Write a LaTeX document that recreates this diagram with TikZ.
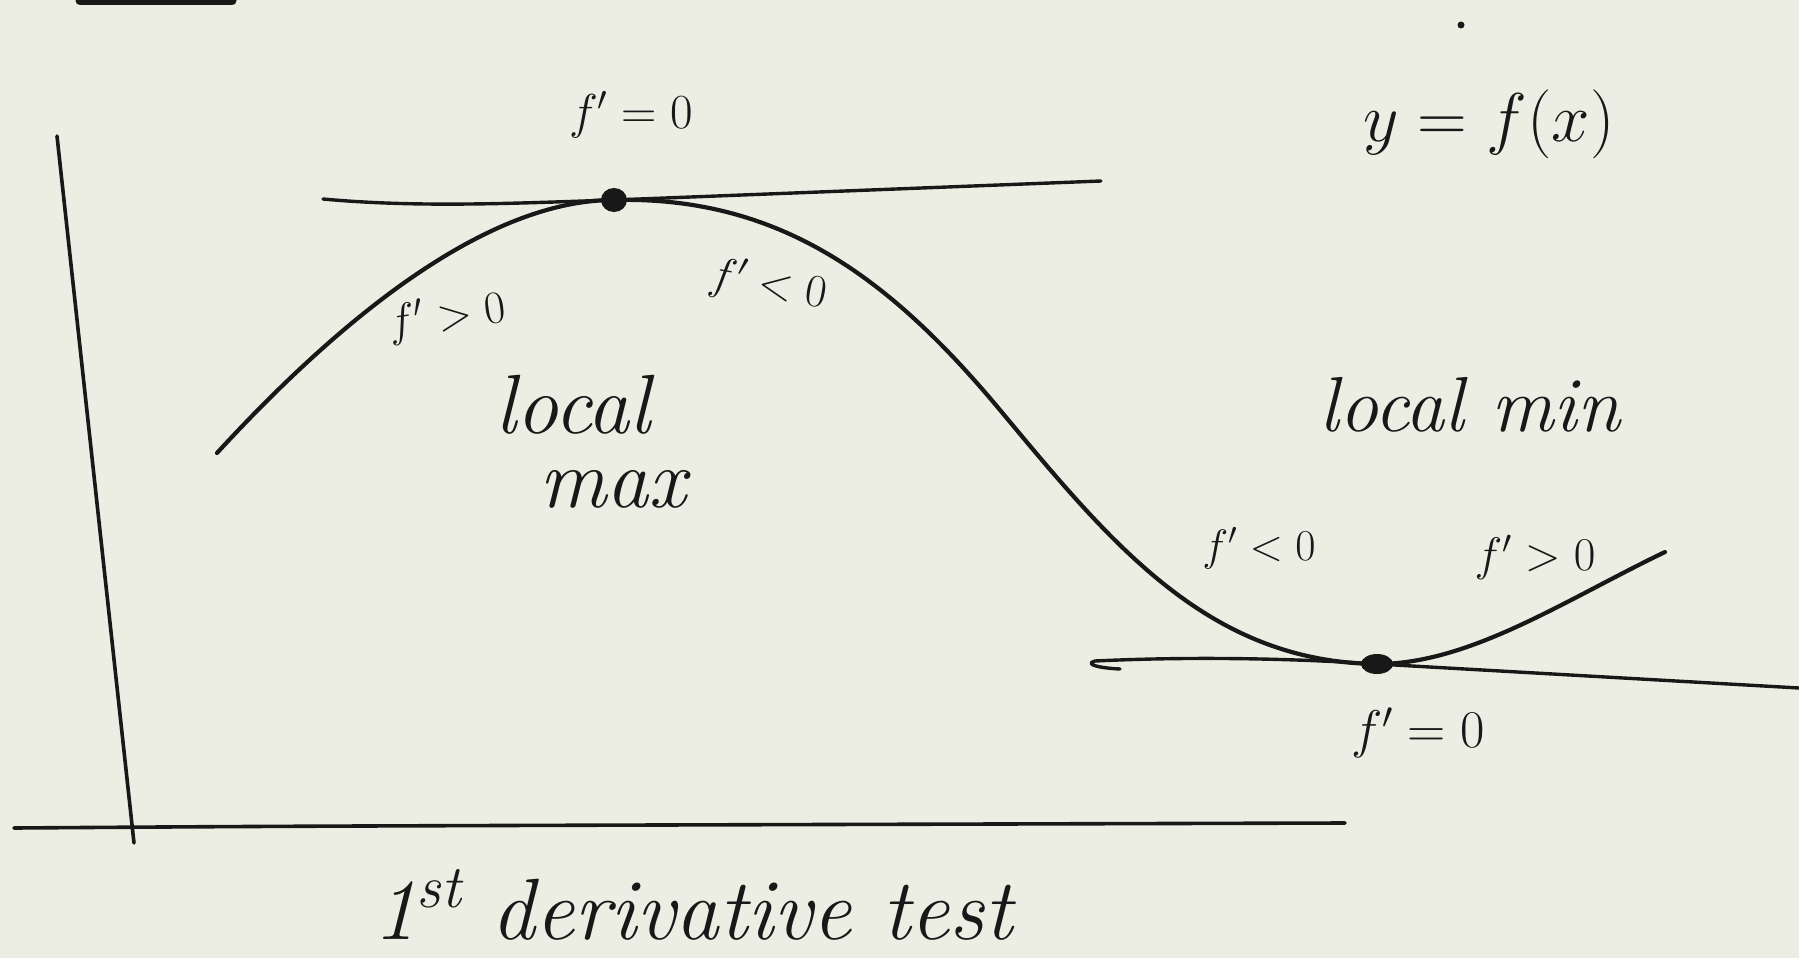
\RequirePackage{fix-cm}
\documentclass[tikz,border=0pt]{standalone}
\begin{document}
\begin{tikzpicture}[x=1pt,y=-1pt,
  ink/.style={draw=inkc, line cap=round, line join=round},
  curve/.style={ink, line width=4.2pt},
  axis/.style={ink, line width=3.6pt},
  tangent/.style={ink, line width=3.4pt},
  lbl/.style={text=inkc, inner sep=0pt, outer sep=0pt},
  dotm/.style={fill=inkc, draw=none}]
\definecolor{paper}{RGB}{237,238,227}
\definecolor{inkc}{RGB}{24,24,24}
\fill[paper] (0,0) rectangle (1799,958);
\useasboundingbox (0,0) rectangle (1799,958);

% stray stroke at the top edge
\coordinate (t1) at (80,1);
\coordinate (t2) at (232,1);
\draw[ink, line width=9pt] (t1) -- (t2);

% axes
\coordinate (yTop) at (57,136);
\coordinate (yBot) at (134,843);
\coordinate (xL) at (14,828);
\coordinate (xR) at (1345,823);
\draw[axis] (yTop) -- (yBot);
\draw[axis] (xL) .. controls (300,826) .. (xR);

% curve key points
\coordinate (S) at (217,453);
\coordinate (P) at (614,200);
\coordinate (I) at (1000,410);
\coordinate (M) at (1377,664);
\coordinate (E) at (1665,552);
\draw[curve] (S) .. controls (330,330) and (480,200) .. (P)
  .. controls (780,196) and (890,278) .. (I)
  .. controls (1110,542) and (1207,662) .. (M)
  .. controls (1470,664) and (1565,600) .. (E);

% tangent at maximum
\coordinate (tmL) at (323,199);
\coordinate (tmR) at (1101,181);
\draw[tangent] (tmL) .. controls (420,208) and (520,203) .. (P) -- (tmR);

% tangent at minimum
\coordinate (hk) at (1120,669);
\coordinate (tnR) at (1799,688);
\draw[tangent] (hk) .. controls (1098,668) and (1084,664) .. (1095,661)
  .. controls (1200,656) and (1300,659) .. (M) -- (tnR);

% points
\fill[dotm] (P) ellipse (13pt and 12pt);
\fill[dotm] (M) ellipse (16pt and 10pt);
\coordinate (sd) at (1461,25);
\fill[dotm] (sd) circle (3.5pt);

% labels
\node[lbl, font=\fontsize{49}{54}\selectfont] (fz1) at (631,115) {$f'=0$};
\node[lbl, font=\fontsize{46}{52}\selectfont, rotate=8] (fp1) at (447,317) {$f'>0$};
\node[lbl, font=\fontsize{46}{52}\selectfont, rotate=-10] (fn1) at (768,285) {$f'<0$};
\node[lbl, font=\fontsize{84}{90}\selectfont\itshape] (lmx1) at (573,405) {local};
\node[lbl, font=\fontsize{84}{90}\selectfont\itshape] (lmx2) at (613,489) {max};
\node[lbl, font=\fontsize{69}{74}\selectfont] (yf) at (1489,124) {$y=f(x)$};
\node[lbl, font=\fontsize{78}{84}\selectfont\itshape] (lmn) at (1470,405) {local min};
\node[lbl, font=\fontsize{44}{50}\selectfont] (fn2) at (1259,548) {$f'<0$};
\node[lbl, font=\fontsize{47}{52}\selectfont] (fp2) at (1535,557) {$f'>0$};
\node[lbl, font=\fontsize{53}{58}\selectfont] (fz2) at (1418,733) {$f'=0$};
\node[lbl, font=\fontsize{87}{92}\selectfont\itshape] (title) at (693,905) {1\textsuperscript{st} derivative test};
\end{tikzpicture}
\end{document}
